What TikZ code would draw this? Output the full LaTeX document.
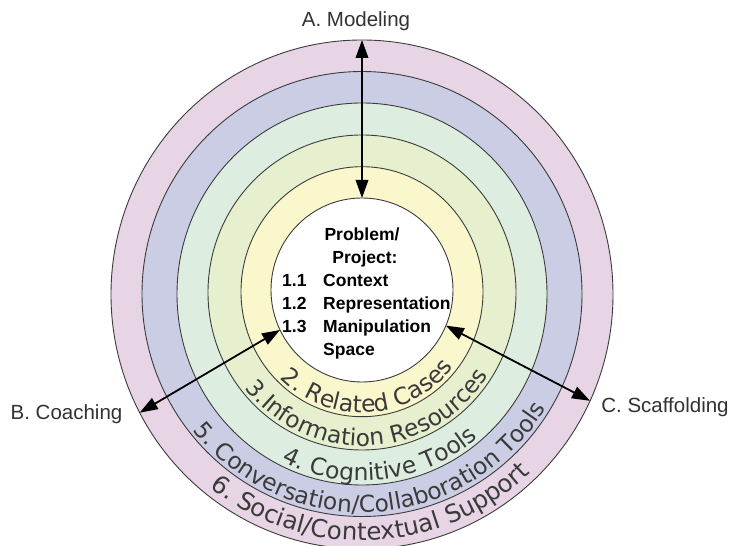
\documentclass[tikz,border=0pt]{standalone}
\usepackage{fontspec}
\setmainfont{Liberation Sans}
\newfontfamily\ringfamily{DejaVu Sans}
\usetikzlibrary{shapes.geometric,arrows.meta,decorations.text}
\definecolor{cSix}{RGB}{231,212,228}
\definecolor{cFive}{RGB}{203,205,228}
\definecolor{cFour}{RGB}{221,238,224}
\definecolor{cThree}{RGB}{231,240,206}
\definecolor{cTwo}{RGB}{251,247,205}
\definecolor{txt}{RGB}{50,50,50}
\definecolor{ringtxt}{RGB}{58,58,58}
\definecolor{edge}{RGB}{60,60,60}
\newcommand{\ringlabel}[7]{%
  \path[decorate, decoration={text along path, text align=center, text color=ringtxt,
      text={|\ringfamily\fontsize{#7pt}{#7pt}\selectfont|#6}}]
    ([shift={(#4-#5:#2pt and #3pt)}]#1.center)
    arc[start angle=#4-#5, end angle=#4+#5, x radius=#2pt, y radius=#3pt];}
\tikzset{
  ringnode/.style={ellipse, draw=edge, line width=0.9pt, inner sep=0pt, outer sep=0pt},
  corelabel/.style={font=\bfseries\fontsize{17.5pt}{20pt}\selectfont, text=black, inner sep=0pt},
  sidelabel/.style={font=\fontsize{20.5pt}{24pt}\selectfont, text=txt, inner sep=0pt, anchor=base},
  twoway/.style={line width=1.8pt, {Triangle[length=18pt,width=12.5pt]}-{Triangle[length=18pt,width=12.5pt]}}
}
\begin{document}
\begin{tikzpicture}[x=1pt,y=1pt]
\useasboundingbox (0,0) rectangle (732,546);
\fill[white] (0,0) rectangle (732,546);
\node[ringnode, fill=cSix, minimum width=502pt, minimum height=509pt] (ring6) at (362,251.5) {};
\node[ringnode, fill=cFive, minimum width=440pt, minimum height=445pt] (ring5) at (362,252) {};
\node[ringnode, fill=cFour, minimum width=370pt, minimum height=382pt] (ring4) at (362,252) {};
\node[ringnode, fill=cThree, minimum width=308pt, minimum height=315pt] (ring3) at (362,253.5) {};
\node[ringnode, fill=cTwo, minimum width=242pt, minimum height=250pt] (ring2) at (362,254.3) {};
\node[ringnode, fill=white, minimum width=182pt, minimum height=184pt] (core) at (362,256) {};

\ringlabel{ring2}{117}{121}{273.5}{80}{2. Related Cases}{23.5}
\ringlabel{ring3}{150}{153.5}{273}{80}{3.Information Resources}{23.3}
\ringlabel{ring4}{181}{187}{276.5}{80}{4. Cognitive Tools}{23.5}
\ringlabel{ring5}{216}{218.5}{273.5}{80}{5. Conversation/Collaboration Tools}{23.3}
\ringlabel{ring6}{245}{246}{272.5}{80}{6. Social/Contextual Support}{24.5}

\node[corelabel, anchor=base] (pA) at (362,305) {Problem/};
\node[corelabel, anchor=base] (pB) at (365,282) {Project:};
\node[corelabel, anchor=base west] (n1) at (282,259) {1.1};
\node[corelabel, anchor=base west] (w1) at (323,259) {Context};
\node[corelabel, anchor=base west] (n2) at (282,236) {1.2};
\node[corelabel, anchor=base west] (w2) at (323,236) {Representation};
\node[corelabel, anchor=base west] (n3) at (282,213) {1.3};
\node[corelabel, anchor=base west] (w3) at (323,213) {Manipulation};
\node[corelabel, anchor=base west] (w4) at (323,190) {Space};

\node[sidelabel] (modeling) at (356,519) {A. Modeling};
\node[sidelabel] (coaching) at (66.5,126) {B. Coaching};
\node[sidelabel] (scaffolding) at (665,133) {C. Scaffolding};

\draw[twoway] (ring6.north) -- (core.north);
\draw[twoway] (ring6.208) -- (core.206);
\draw[twoway] (ring6.335) -- (core.337);
\end{tikzpicture}
\end{document}
